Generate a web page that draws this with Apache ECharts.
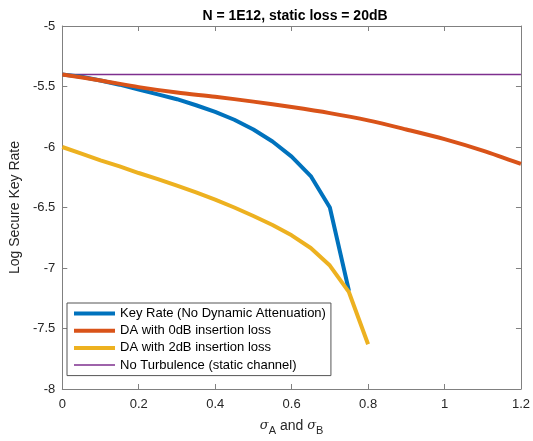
<!DOCTYPE html>
<html>
<head>
<meta charset="utf-8">
<script src="https://cdn.jsdelivr.net/npm/echarts@6/dist/echarts.min.js"></script>
<style>html,body{margin:0;padding:0;background:#fff;}#c{width:533px;height:441px;}</style>
</head>
<body>
<div id="c"></div>
<script>
const titleText = 'N = 1E12, static loss = 20dB';
const seriesNames = ['Key Rate (No Dynamic Attenuation)', 'DA with 0dB insertion loss', 'DA with 2dB insertion loss', 'No Turbulence (static channel)'];

const keyRateX = [0, 0.05, 0.1, 0.15, 0.2, 0.25, 0.3, 0.35, 0.4, 0.45, 0.5, 0.55, 0.6, 0.65, 0.7, 0.75];
const keyRateY = [-5.40, -5.42, -5.45, -5.485, -5.525, -5.565, -5.605, -5.655, -5.71, -5.775, -5.855, -5.955, -6.08, -6.24, -6.50, -7.19];

const da0X = [0, 0.1, 0.2, 0.3, 0.4, 0.5, 0.6, 0.7, 0.8, 0.9, 1.0, 1.1, 1.2];
const da0Y = [-5.40, -5.45, -5.505, -5.55, -5.585, -5.625, -5.67, -5.72, -5.78, -5.855, -5.935, -6.03, -6.14];

const da2X = [0, 0.05, 0.1, 0.15, 0.2, 0.25, 0.3, 0.35, 0.4, 0.45, 0.5, 0.55, 0.6, 0.65, 0.7, 0.75, 0.8];
const da2Y = [-6.00, -6.055, -6.11, -6.16, -6.215, -6.265, -6.32, -6.375, -6.435, -6.50, -6.57, -6.645, -6.73, -6.835, -6.98, -7.20, -7.63];

const staticX = [0, 1.2];
const staticY = [-5.4, -5.4];

const xMin = 0, xMax = 1.2, xStep = 0.2;
const yMin = -8, yMax = -5, yStep = 0.5;

const pair = (xs, ys) => xs.map((x, i) => [x, ys[i]]);
const colors = ['#0072BD', '#D95319', '#EDB120', '#7E2F8E'];
const widths = [4, 4, 4, 1.5];
const font = 'Liberation Sans, Arial, Helvetica, sans-serif';
const axisCol = '#808080';
const txtCol = '#262626';

const chart = echarts.init(document.getElementById('c'), null, {renderer: 'canvas'});
const baseX = {
  type: 'value', min: xMin, max: xMax, interval: xStep,
  axisLine: {show: true, onZero: false, lineStyle: {color: axisCol, width: 1}},
  axisTick: {show: true, inside: true, length: 5, lineStyle: {color: axisCol}},
  splitLine: {show: false}
};
const baseY = {
  type: 'value', min: yMin, max: yMax, interval: yStep,
  axisLine: {show: true, onZero: false, lineStyle: {color: axisCol, width: 1}},
  axisTick: {show: true, inside: true, length: 5, lineStyle: {color: axisCol}},
  splitLine: {show: false}
};
chart.setOption({
  animation: false,
  backgroundColor: '#fff',
  title: {
    text: titleText, left: 290, top: 4, textAlign: 'center',
    textStyle: {fontFamily: font, fontSize: 14, fontWeight: 'bold', color: '#000'}
  },
  grid: {left: 59, right: 11, top: 26, bottom: 52, containLabel: false},
  xAxis: [
    Object.assign({}, baseX, {
      position: 'bottom',
      axisLabel: {show: true, margin: 9, color: txtCol, fontFamily: font, fontSize: 13},
      name: '{g|σ}{s|A}{t| and }{g|σ}{s|B}',
      nameLocation: 'middle', nameGap: 27,
      nameTextStyle: {
        color: txtCol, fontFamily: font, fontSize: 13,
        rich: {
          g: {fontFamily: 'DejaVu Serif, serif', fontStyle: 'italic', fontSize: 13, color: txtCol},
          t: {fontFamily: font, fontSize: 14, color: txtCol},
          s: {fontFamily: font, fontSize: 11, color: txtCol, padding: [9, 0, 0, 0]}
        }
      }
    }),
    Object.assign({}, baseX, {position: 'top', axisLabel: {show: false}})
  ],
  yAxis: [
    Object.assign({}, baseY, {
      position: 'left',
      axisLabel: {show: true, margin: 7, color: txtCol, fontFamily: font, fontSize: 13},
      name: 'Log Secure Key Rate', nameLocation: 'middle', nameGap: 34,
      nameTextStyle: {color: txtCol, fontFamily: font, fontSize: 14}
    }),
    Object.assign({}, baseY, {position: 'right', axisLabel: {show: false}})
  ],
  legend: {
    data: seriesNames.map((n, i) => ({name: n, lineStyle: {color: colors[i], width: widths[i]}})),
    orient: 'vertical', left: 67, top: 303,
    padding: [4, 5, 4, 5],
    itemWidth: 41, itemHeight: 14, itemGap: 4.2,
    backgroundColor: '#fff', borderColor: '#555', borderWidth: 1,
    textStyle: {fontFamily: font, fontSize: 13, color: '#000'},
    itemStyle: {opacity: 0},
    selectedMode: false
  },
  series: [
    {name: seriesNames[3], type: 'line', data: pair(staticX, staticY), showSymbol: false, symbol: 'none',
     lineStyle: {color: colors[3], width: widths[3]}, itemStyle: {color: colors[3]}},
    {name: seriesNames[0], type: 'line', data: pair(keyRateX, keyRateY), showSymbol: false, symbol: 'none',
     lineStyle: {color: colors[0], width: widths[0]}, itemStyle: {color: colors[0]}},
    {name: seriesNames[1], type: 'line', data: pair(da0X, da0Y), showSymbol: false, symbol: 'none', smooth: 0.3,
     lineStyle: {color: colors[1], width: widths[1]}, itemStyle: {color: colors[1]}},
    {name: seriesNames[2], type: 'line', data: pair(da2X, da2Y), showSymbol: false, symbol: 'none',
     lineStyle: {color: colors[2], width: widths[2]}, itemStyle: {color: colors[2]}}
  ]
});
</script>
</body>
</html>
